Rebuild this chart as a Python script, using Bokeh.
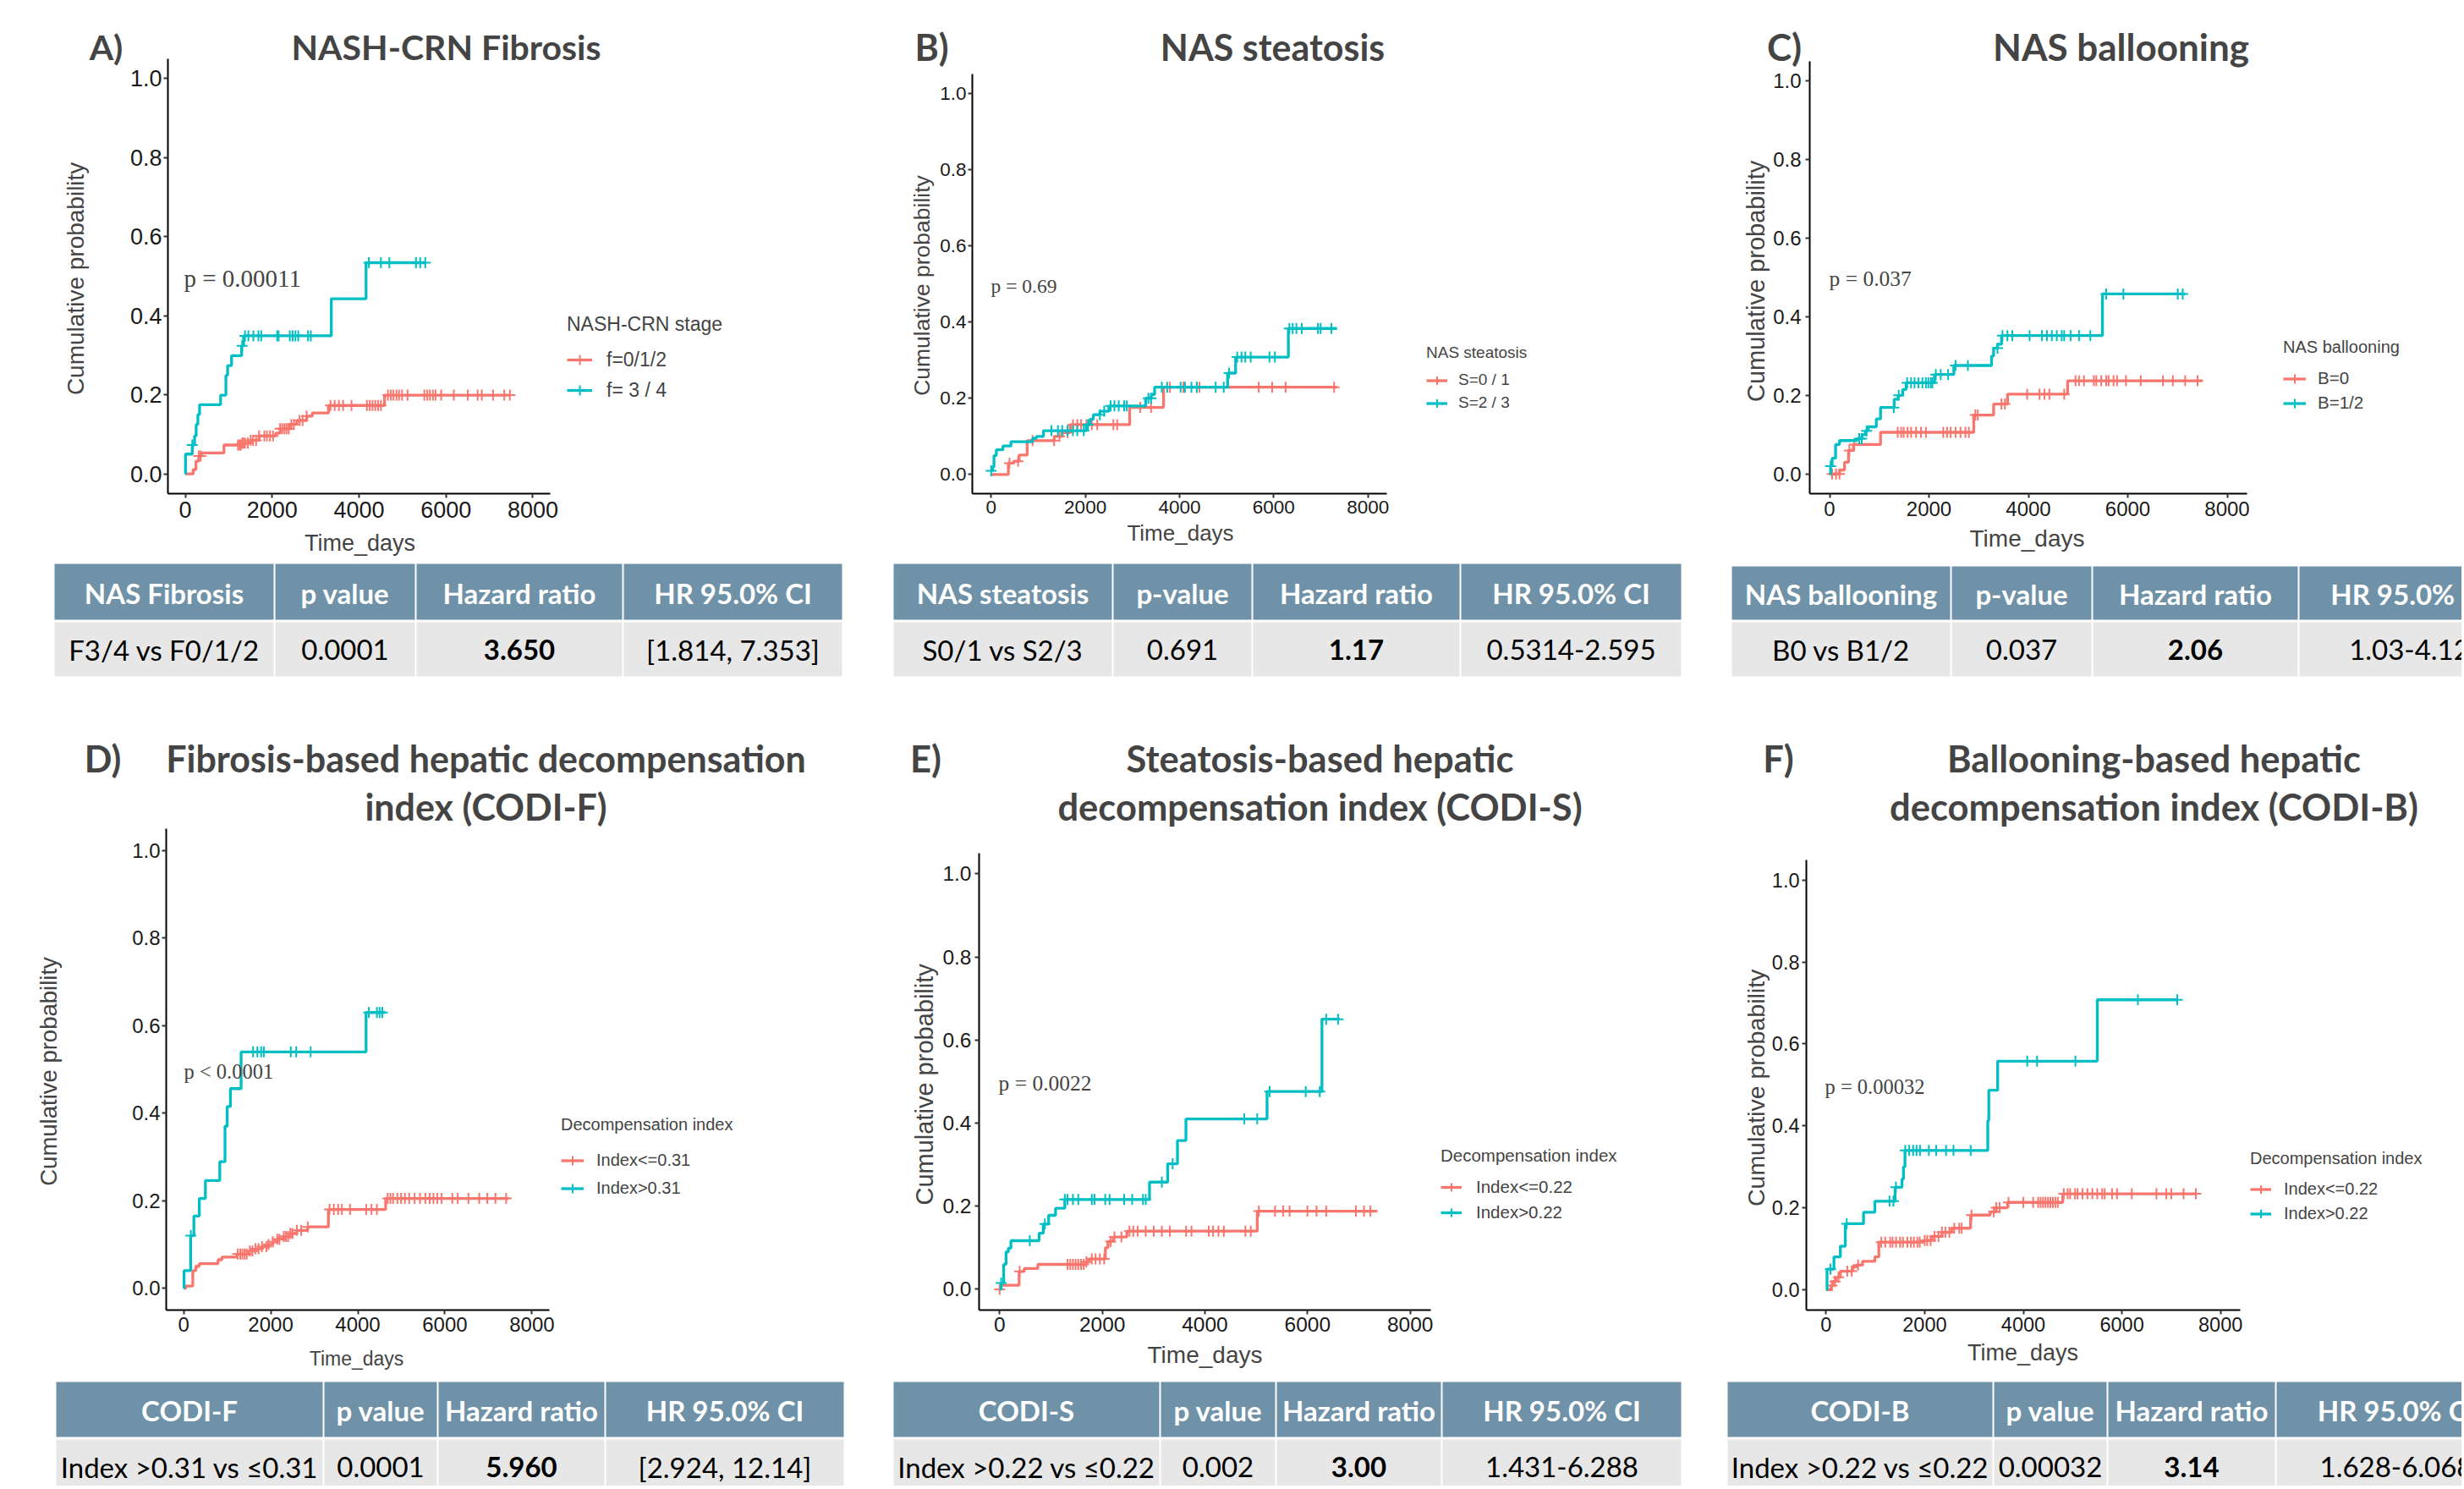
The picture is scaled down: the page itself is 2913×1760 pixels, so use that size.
import numpy as np
from bokeh.plotting import figure
from bokeh.layouts import column, row
from bokeh.models import Label, Legend, LegendItem, Range1d, FixedTicker, PrintfTickFormatter
from bokeh.core.properties import value
from bokeh.embed import file_html
from bokeh.resources import INLINE

RED = "#F8766D"
CYAN = "#00BFC4"
HEAD_BG = "#6F92A8"
ROW_BG = "#E7E7E7"

X_TICKS = [0, 2000, 4000, 6000, 8000]
Y_TICKS = [0.0, 0.2, 0.4, 0.6, 0.8, 1.0]
X_LABEL = "Time_days"
Y_LABEL = "Cumulative probability"

# ---------------- data ----------------
# A) NASH-CRN Fibrosis
A_LO_T = [0, 181, 245, 310, 374, 890, 1310, 1503, 1697, 2084, 2181, 2406, 2568, 2794, 2923, 3297, 4587, 7471]
A_LO_Y = [0, 0.011, 0.032, 0.045, 0.053, 0.073, 0.078, 0.085, 0.096, 0.103, 0.114, 0.125, 0.135, 0.146, 0.154,
          0.173, 0.199, 0.199]
A_LO_C = [310, 355, 1213, 1250, 1280, 1310, 1340, 1374, 1440, 1503, 1560, 1630, 1697, 1820, 1880, 1950, 2020, 2181,
          2230, 2280, 2330, 2380, 2440, 2500, 2632, 2700, 2794, 3342, 3439, 3535, 3632, 3826, 4181, 4245, 4310,
          4374, 4439, 4503, 4665, 4730, 4790, 4860, 4920, 4990, 5116, 5503, 5570, 5630, 5700, 5760, 5890, 6181,
          6503, 6729, 6826, 7084, 7342, 7471]
A_HI_T = [0, 5, 161, 213, 250, 290, 329, 813, 935, 974, 1065, 1297, 1342, 3361, 4161, 5523]
A_HI_Y = [0, 0.05, 0.073, 0.096, 0.125, 0.15, 0.175, 0.199, 0.249, 0.274, 0.299, 0.324, 0.349, 0.443, 0.534, 0.534]
A_HI_C = [161, 1310, 1374, 1452, 1568, 1684, 1748, 2116, 2148, 2406, 2471, 2535, 2600, 2826, 2890, 4226, 4503,
          4697, 5310, 5406, 5523]

# B) NAS steatosis
B_LO_T = [0, 365, 480, 595, 765, 1340, 1510, 1680, 2940, 3660, 7340]
B_LO_Y = [0, 0.03, 0.035, 0.051, 0.089, 0.10, 0.11, 0.131, 0.176, 0.229, 0.229]
B_LO_C = [389, 572, 880, 1337, 1452, 1623, 1737, 1829, 1909, 2023, 2137, 2252, 2595, 2675, 3166, 3395, 3795,
          4081, 4366, 4423, 5681, 5966, 6252, 7281]
B_HI_T = [0, 30, 60, 110, 250, 420, 880, 960, 1110, 2020, 2100, 2170, 2310, 2500, 3280, 3400, 3470, 5020, 5190,
          6310, 7340]
B_HI_Y = [0.01, 0.02, 0.05, 0.065, 0.075, 0.086, 0.095, 0.10, 0.115, 0.131, 0.145, 0.157, 0.166, 0.18, 0.20,
          0.21, 0.229, 0.266, 0.308, 0.383, 0.383]
B_HI_C = [0, 1280, 1417, 1509, 1623, 1737, 1829, 1966, 2057, 2309, 2400, 2537, 2617, 2709, 2823, 2880, 3338,
          3395, 3623, 3737, 4023, 4115, 4252, 4366, 4766, 4938, 5052, 5224, 5315, 5395, 5510, 5909, 6024, 6332,
          6401, 6481, 6595, 6938, 6995, 7224]

# C) NAS ballooning
C_LO_T = [0, 200, 300, 380, 480, 1025, 2900, 3300, 3580, 4790, 7500]
C_LO_Y = [0, 0.01, 0.03, 0.06, 0.075, 0.106, 0.15, 0.178, 0.203, 0.237, 0.237]
C_LO_C = [50, 129, 199, 398, 497, 1371, 1441, 1491, 1570, 1640, 1739, 1839, 1938, 2286, 2365, 2435, 2534, 2634,
          2733, 2803, 2932, 2981, 3458, 3528, 3975, 4224, 4323, 4422, 4721, 4949, 5019, 5118, 5317, 5367, 5466,
          5565, 5615, 5714, 5784, 5963, 6261, 6708, 6907, 7155, 7404]
C_HI_T = [0, 20, 50, 120, 200, 550, 650, 720, 775, 940, 1025, 1300, 1380, 1470, 1540, 2110, 2500, 3260, 3300,
          3380, 3460, 5490, 7155]
C_HI_Y = [0, 0.02, 0.04, 0.075, 0.085, 0.09, 0.10, 0.11, 0.12, 0.14, 0.169, 0.19, 0.20, 0.215, 0.232, 0.253,
          0.276, 0.30, 0.32, 0.33, 0.352, 0.458, 0.458]
C_HI_C = [20, 596, 646, 745, 1292, 1391, 1560, 1640, 1709, 1789, 1868, 1938, 1988, 2037, 2067, 2137, 2236, 2385,
          2534, 2783, 3379, 3479, 3578, 3677, 4025, 4273, 4373, 4472, 4571, 4671, 4721, 4850, 5019, 5247, 5565,
          5913, 7006, 7106]

# D) CODI-F
D_LO_T = [0, 50, 210, 280, 360, 790, 880, 1225, 1500, 1650, 1800, 1950, 2050, 2150, 2300, 2450, 2600, 2850, 3325,
          4640, 7470]
D_LO_Y = [0, 0.005, 0.04, 0.05, 0.056, 0.065, 0.071, 0.078, 0.085, 0.09, 0.095, 0.10, 0.106, 0.112, 0.118, 0.125,
          0.132, 0.14, 0.18, 0.205, 0.205]
D_LO_C = [1240, 1300, 1350, 1400, 1450, 1520, 1580, 1650, 1720, 1800, 1900, 1950, 2050, 2150, 2200, 2300, 2350,
          2400, 2450, 2500, 2600, 2700, 2850, 3351, 3450, 3549, 3635, 3821, 4192, 4315, 4439, 4686, 4748, 4810,
          4909, 4995, 5082, 5181, 5305, 5428, 5552, 5651, 5737, 5824, 5923, 6170, 6294, 6541, 6788, 6974, 7160,
          7407]
D_HI_T = [0, 10, 160, 235, 360, 500, 830, 950, 1000, 1075, 1320, 4190, 4625]
D_HI_Y = [0, 0.04, 0.12, 0.165, 0.205, 0.246, 0.289, 0.37, 0.415, 0.456, 0.54, 0.63, 0.63]
D_HI_C = [165, 1595, 1694, 1781, 1842, 2461, 2585, 2918, 4254, 4439, 4501, 4563]

# E) CODI-S
E_LO_T = [0, 20, 380, 480, 745, 1690, 1740, 2060, 2110, 2215, 2480, 5020, 7360]
E_LO_Y = [0, 0.01, 0.043, 0.05, 0.06, 0.066, 0.073, 0.10, 0.115, 0.126, 0.14, 0.188, 0.188]
E_LO_C = [0, 390, 1323, 1376, 1428, 1481, 1533, 1586, 1638, 1690, 1796, 1869, 1953, 2037, 2163, 2237, 2373, 2531,
          2604, 2688, 2846, 3003, 3161, 3318, 3633, 3738, 4074, 4158, 4263, 4368, 4788, 4893, 5051, 5366, 5523,
          5649, 5996, 6174, 6363, 6941, 7098, 7224]
E_HI_T = [0, 30, 80, 125, 170, 220, 770, 850, 955, 1090, 1270, 2920, 3275, 3465, 3630, 5210, 6280, 6625]
E_HI_Y = [0, 0.015, 0.06, 0.09, 0.099, 0.117, 0.135, 0.157, 0.178, 0.195, 0.216, 0.258, 0.302, 0.358, 0.41,
          0.476, 0.65, 0.65]
E_HI_C = [30, 588, 882, 1270, 1323, 1428, 1533, 1796, 1848, 2058, 2142, 2426, 2583, 2793, 2846, 3161, 3371, 4767,
          5019, 5261, 5964, 6237, 6363, 6594]

# F) CODI-B
F_LO_T = [0, 100, 140, 200, 290, 540, 620, 740, 990, 1070, 1985, 2150, 2350, 2550, 2930, 3330, 3450, 3680, 4800,
          7520]
F_LO_Y = [0, 0.01, 0.02, 0.03, 0.045, 0.055, 0.06, 0.069, 0.08, 0.116, 0.12, 0.13, 0.14, 0.15, 0.182, 0.19, 0.20,
          0.213, 0.234, 0.234]
F_LO_C = [120, 180, 250, 430, 520, 650, 1120, 1200, 1300, 1350, 1420, 1500, 1560, 1650, 1720, 1780, 1850, 1900,
          2000, 2050, 2120, 2200, 2280, 2350, 2420, 2500, 2600, 2700, 2750, 2950, 3400, 3450, 3520, 3700, 4000,
          4200, 4300, 4350, 4400, 4450, 4500, 4550, 4600, 4650, 4700, 4820, 4900, 4950, 5050, 5100, 5200, 5300,
          5400, 5500, 5600, 5650, 5800, 5900, 6200, 6700, 6900, 7000, 7250, 7500]
F_HI_T = [0, 20, 160, 290, 390, 760, 990, 1400, 1540, 1570, 1600, 3280, 3300, 3480, 5500, 7120]
F_HI_Y = [0, 0.05, 0.08, 0.106, 0.161, 0.189, 0.216, 0.25, 0.27, 0.30, 0.34, 0.413, 0.487, 0.558, 0.708, 0.708]
F_HI_C = [90, 419, 1287, 1367, 1416, 1606, 1686, 1766, 1835, 1905, 2085, 2234, 2434, 2584, 2933, 4080, 4279,
          5057, 6324, 7122]

# tables
TAB_A_HEAD = ["NAS Fibrosis", "p value", "Hazard ratio", "HR 95.0% CI"]
TAB_A_ROW = ["F3/4 vs F0/1/2", "0.0001", "3.650", "[1.814, 7.353]"]
TAB_B_HEAD = ["NAS steatosis", "p-value", "Hazard ratio", "HR 95.0% CI"]
TAB_B_ROW = ["S0/1 vs S2/3", "0.691", "1.17", "0.5314-2.595"]
TAB_C_HEAD = ["NAS ballooning", "p-value", "Hazard ratio", "HR 95.0% CI"]
TAB_C_ROW = ["B0 vs B1/2", "0.037", "2.06", "1.03-4.12"]
TAB_D_HEAD = ["CODI-F", "p value", "Hazard ratio", "HR 95.0% CI"]
TAB_D_ROW = ["Index >0.31 vs \u22640.31", "0.0001", "5.960", "[2.924, 12.14]"]
TAB_E_HEAD = ["CODI-S", "p value", "Hazard ratio", "HR 95.0% CI"]
TAB_E_ROW = ["Index >0.22 vs \u22640.22", "0.002", "3.00", "1.431-6.288"]
TAB_F_HEAD = ["CODI-B", "p value", "Hazard ratio", "HR 95.0% CI"]
TAB_F_ROW = ["Index >0.22 vs \u22640.22", "0.00032", "3.14", "1.628-6.068"]

# ---------------- layout (page pixel positions) ----------------
PANELS = [
    dict(box=(0, 0, 1000, 664), frame=(198, 69, 650, 585), tick_fs=27, xl_fs=27, yl_fs=28,
         tick_gap=(2, 4), xl_xy=(425, 644), yl_xy=(89, 330),
         tag="A)", tag_xy=(125, 55), title=["NASH-CRN Fibrosis"], title_xy=(527, 55), title_fs=41,
         p_text="p = 0.00011", p_xy=(217, 330), p_fs=29,
         leg=dict(title="NASH-CRN stage", labels=["f=0/1/2", "f= 3 / 4"], left=670, key_w=30, label_left=717,
                  title_cy=385, items=[427, 463], title_fs=23, label_fs=23),
         lo=(A_LO_T, A_LO_Y, A_LO_C), hi=(A_HI_T, A_HI_Y, A_HI_C)),
    dict(box=(1000, 0, 1000, 664), frame=(1149, 87, 1639, 583), tick_fs=22.5, xl_fs=26, yl_fs=26.5,
         tick_gap=(2, 3), xl_xy=(1395, 629), yl_xy=(1089, 337),
         tag="B)", tag_xy=(1101, 55), title=["NAS steatosis"], title_xy=(1504, 55), title_fs=43,
         p_text="p = 0.69", p_xy=(1171, 337), p_fs=23.5,
         leg=dict(title="NAS steatosis", labels=["S=0 / 1", "S=2 / 3"], left=1686, key_w=25, label_left=1724,
                  title_cy=416, items=[449, 476], title_fs=19, label_fs=19),
         lo=(B_LO_T, B_LO_Y, B_LO_C), hi=(B_HI_T, B_HI_Y, B_HI_C)),
    dict(box=(2000, 0, 910, 664), frame=(2139, 72, 2656, 585), tick_fs=24, xl_fs=28, yl_fs=29,
         tick_gap=(5, 4), xl_xy=(2396, 638), yl_xy=(2075, 333),
         tag="C)", tag_xy=(2109, 55), title=["NAS ballooning"], title_xy=(2507, 55), title_fs=44,
         p_text="p = 0.037", p_xy=(2162, 330), p_fs=25.5,
         leg=dict(title="NAS ballooning", labels=["B=0", "B=1/2"], left=2699, key_w=27, label_left=2740,
                  title_cy=412, items=[449, 478], title_fs=20, label_fs=20.5),
         lo=(C_LO_T, C_LO_Y, C_LO_C), hi=(C_HI_T, C_HI_Y, C_HI_C)),
    dict(box=(0, 830, 1000, 800), frame=(196, 979, 649, 1548), tick_fs=24, xl_fs=23, yl_fs=27.5,
         tick_gap=(2, 3), xl_xy=(421, 1605), yl_xy=(57, 1266),
         tag="D)", tag_xy=(121, 896), title=["Fibrosis-based hepatic decompensation", "index (CODI-F)"],
         title_xy=(574, 896), title_fs=43,
         p_text="p < 0.0001", p_xy=(217, 1266), p_fs=24.5,
         leg=dict(title="Decompensation index", labels=["Index<=0.31", "Index>0.31"], left=663, key_w=27,
                  label_left=705, title_cy=1329, items=[1371, 1404], title_fs=20, label_fs=20),
         lo=(D_LO_T, D_LO_Y, D_LO_C), hi=(D_HI_T, D_HI_Y, D_HI_C)),
    dict(box=(1000, 830, 1000, 800), frame=(1157, 1008, 1691, 1549), tick_fs=24.5, xl_fs=28, yl_fs=29,
         tick_gap=(4, 3), xl_xy=(1424, 1602), yl_xy=(1092, 1282),
         tag="E)", tag_xy=(1094, 896), title=["Steatosis-based hepatic", "decompensation index (CODI-S)"],
         title_xy=(1560, 896), title_fs=43.5,
         p_text="p = 0.0022", p_xy=(1180, 1281), p_fs=25.5,
         leg=dict(title="Decompensation index", labels=["Index<=0.22", "Index>0.22"], left=1703, key_w=25,
                  label_left=1745, title_cy=1367, items=[1404, 1434], title_fs=20.5, label_fs=20.5),
         lo=(E_LO_T, E_LO_Y, E_LO_C), hi=(E_HI_T, E_HI_Y, E_HI_C)),
    dict(box=(2000, 830, 910, 800), frame=(2135, 1016, 2648, 1549), tick_fs=23.5, xl_fs=27, yl_fs=28.5,
         tick_gap=(3, 3), xl_xy=(2391, 1600), yl_xy=(2075, 1286),
         tag="F)", tag_xy=(2102, 896), title=["Ballooning-based hepatic", "decompensation index (CODI-B)"],
         title_xy=(2546, 896), title_fs=43.5,
         p_text="p = 0.00032", p_xy=(2157, 1285), p_fs=24.5,
         leg=dict(title="Decompensation index", labels=["Index<=0.22", "Index>0.22"], left=2660, key_w=25,
                  label_left=2700, title_cy=1370, items=[1406, 1435], title_fs=20, label_fs=20),
         lo=(F_LO_T, F_LO_Y, F_LO_C), hi=(F_HI_T, F_HI_Y, F_HI_C)),
]

XR = (-400, 8400)
YR = (-0.05, 1.05)
TITLE_LINE_GAP = 57


def y_at(ts, ys, cs):
    ts = np.asarray(ts, float)
    ys = np.asarray(ys, float)
    idx = np.searchsorted(ts, np.asarray(cs, float), side="right") - 1
    return ys[np.clip(idx, 0, len(ys) - 1)]


def km_panel(P):
    ox, oy, W, H = P["box"]
    fl, ft, fr, fb = P["frame"]          # the axes box
    kx = (XR[1] - XR[0]) / (fr - fl)      # data units per pixel
    ky = (YR[1] - YR[0]) / (fb - ft)
    # the plotting frame is extended to the right and top edges of the figure,
    # so titles and legend sit inside it; the axes are bounded to the axes box.
    x_end = XR[0] + (ox + W - fl) * kx
    y_end = YR[0] + (fb - oy) * ky

    def to_data(px, py):
        return XR[0] + (px - fl) * kx, YR[0] + (fb - py) * ky

    p = figure(width=W, height=H, x_range=Range1d(XR[0], x_end), y_range=Range1d(YR[0], y_end),
               min_border_left=fl - ox, min_border_right=0, min_border_top=0, min_border_bottom=oy + H - fb,
               output_backend="svg", toolbar_location=None)
    p.xgrid.visible = False
    p.ygrid.visible = False
    p.outline_line_color = None
    p.background_fill_color = "white"
    p.border_fill_color = "white"
    p.xaxis.ticker = FixedTicker(ticks=X_TICKS)
    p.yaxis.ticker = FixedTicker(ticks=Y_TICKS)
    p.xaxis.bounds = XR
    p.yaxis.bounds = YR
    p.yaxis.formatter = PrintfTickFormatter(format="%.1f")
    for ax, gap in ((p.xaxis[0], P["tick_gap"][1]), (p.yaxis[0], P["tick_gap"][0])):
        ax.axis_line_width = 2
        ax.axis_line_color = "black"
        ax.major_tick_line_width = 2
        ax.major_tick_line_color = "#333333"
        ax.major_tick_out = 5
        ax.major_tick_in = 0
        ax.minor_tick_line_color = None
        ax.major_label_standoff = gap
        ax.major_label_text_font = "Liberation Sans"
        ax.major_label_text_font_size = f"{P['tick_fs']}px"
        ax.major_label_text_color = "#1a1a1a"

    rends = []
    for (t, y, c), col in ((P["lo"], RED), (P["hi"], CYAN)):
        r1 = p.step(t, y, mode="after", line_color=col, line_width=3.3)
        r2 = p.scatter(c, y_at(t, y, c), marker="cross", size=13, line_color=col, line_width=2)
        rends.append([r1, r2])

    L = P["leg"]
    item_h = L["items"][1] - L["items"][0]
    bottom = L["items"][-1] + item_h / 2
    first_top = L["items"][0] - item_h / 2
    title_h = 1.15 * L["title_fs"]
    leg = Legend(items=[LegendItem(label=lab, renderers=rs) for lab, rs in zip(L["labels"], rends)],
                 title=L["title"], location=(L["left"] - fl, fb - bottom))
    leg.title_text_font = "Liberation Sans"
    leg.title_text_font_style = "normal"
    leg.title_text_font_size = f"{L['title_fs']}px"
    leg.label_text_font = "Liberation Sans"
    leg.label_text_font_size = f"{L['label_fs']}px"
    leg.glyph_width = L["key_w"]
    leg.glyph_height = item_h
    leg.label_height = item_h
    leg.spacing = 0
    leg.padding = 0
    leg.margin = 0
    leg.label_standoff = L["label_left"] - L["left"] - L["key_w"]
    leg.title_standoff = max(0, int(first_top - (L["title_cy"] + title_h / 2)))
    leg.border_line_color = None
    leg.background_fill_alpha = 0
    p.add_layout(leg)

    for i, line in enumerate(P["title"]):
        lx, ly = to_data(P["title_xy"][0], P["title_xy"][1] + i * TITLE_LINE_GAP)
        p.add_layout(Label(x=lx, y=ly, text=line, text_font="Lato", text_font_style="bold",
                           text_font_size=f"{P['title_fs']}px", text_align="center", text_baseline="middle"))
    tx, ty = to_data(*P["tag_xy"])
    p.add_layout(Label(x=tx, y=ty, text=P["tag"], text_font="Lato", text_font_style="bold",
                       text_font_size=f"{P['title_fs']}px", text_align="center", text_baseline="middle"),
                 "left")
    yx, yy = to_data(*P["yl_xy"])
    p.add_layout(Label(x=yx, y=yy, text=Y_LABEL, angle=np.pi / 2, text_font="Liberation Sans",
                       text_font_size=f"{P['yl_fs']}px", text_align="center", text_baseline="middle"),
                 "left")
    xx, xy = to_data(*P["xl_xy"])
    p.add_layout(Label(x=xx, y=xy, text=X_LABEL, text_font="Liberation Sans",
                       text_font_size=f"{P['xl_fs']}px", text_align="center", text_baseline="middle"),
                 "below")
    px, py = to_data(*P["p_xy"])
    p.add_layout(Label(x=px, y=py, text=P["p_text"], text_font="Liberation Serif",
                       text_font_size=f"{P['p_fs']}px", text_align="left", text_baseline="middle"))
    return p


TOP_TABLES = [
    dict(edges=[63, 324, 491, 736, 996], head=TAB_A_HEAD, rowv=TAB_A_ROW, hy=(666, 732), dy=(735, 799)),
    dict(edges=[1055, 1315, 1480, 1726, 1988], head=TAB_B_HEAD, rowv=TAB_B_ROW, hy=(666, 732), dy=(735, 799)),
    dict(edges=[2046, 2306, 2473, 2717, 2979], head=TAB_C_HEAD, rowv=TAB_C_ROW, hy=(669, 732), dy=(735, 799)),
]
BOT_TABLES = [
    dict(edges=[65, 382, 517, 715, 998], head=TAB_D_HEAD, rowv=TAB_D_ROW, hy=(1633, 1698), dy=(1701, 1800)),
    dict(edges=[1055, 1371, 1508, 1704, 1988], head=TAB_E_HEAD, rowv=TAB_E_ROW, hy=(1633, 1698), dy=(1701, 1800)),
    dict(edges=[2041, 2356, 2491, 2690, 2975], head=TAB_F_HEAD, rowv=TAB_F_ROW, hy=(1633, 1698), dy=(1701, 1800)),
]
PAGE_W = 2910


def table_fig(y0, y1, tables, row_text_y):
    p = figure(width=PAGE_W, height=y1 - y0, x_range=Range1d(0, PAGE_W), y_range=Range1d(y1, y0),
               min_border=0, min_border_left=0, min_border_right=0, min_border_top=0, min_border_bottom=0,
               x_axis_location=None, y_axis_location=None,
               output_backend="svg", toolbar_location=None)
    p.grid.visible = False
    p.outline_line_color = None
    for T in tables:
        e = T["edges"]
        lefts = [a + 1 for a in e[:-1]]
        rights = [b - 1 for b in e[1:]]
        centers = [(a + b) / 2 for a, b in zip(e[:-1], e[1:])]
        p.quad(left=lefts, right=rights, top=[T["hy"][0]] * 4, bottom=[T["hy"][1]] * 4,
               fill_color=HEAD_BG, line_color=None)
        p.quad(left=lefts, right=rights, top=[T["dy"][0]] * 4, bottom=[T["dy"][1]] * 4,
               fill_color=ROW_BG, line_color=None)
        p.text(x=centers, y=[(T["hy"][0] + T["hy"][1]) / 2 + 1] * 4, text=T["head"],
               text_font=value("Lato"), text_font_style="bold", text_font_size=value("33px"),
               text_color="white", text_align="center", text_baseline="middle")
        normal = [i for i in range(4) if i != 2]
        p.text(x=[centers[i] for i in normal], y=[row_text_y] * 3, text=[T["rowv"][i] for i in normal],
               text_font=value("Lato"), text_font_size=value("33px"),
               text_color="black", text_align="center", text_baseline="middle")
        p.text(x=[centers[2]], y=[row_text_y], text=[T["rowv"][2]],
               text_font=value("Lato"), text_font_style="bold", text_font_size=value("33px"),
               text_color="black", text_align="center", text_baseline="middle")
    return p


figs = [km_panel(P) for P in PANELS]
tab_top = table_fig(664, 830, TOP_TABLES, 767)
tab_bot = table_fig(1630, 1756, BOT_TABLES, 1733)

layout = column(row(figs[0], figs[1], figs[2]), tab_top, row(figs[3], figs[4], figs[5]), tab_bot)

open("out.html", "w").write(file_html(layout, INLINE))
